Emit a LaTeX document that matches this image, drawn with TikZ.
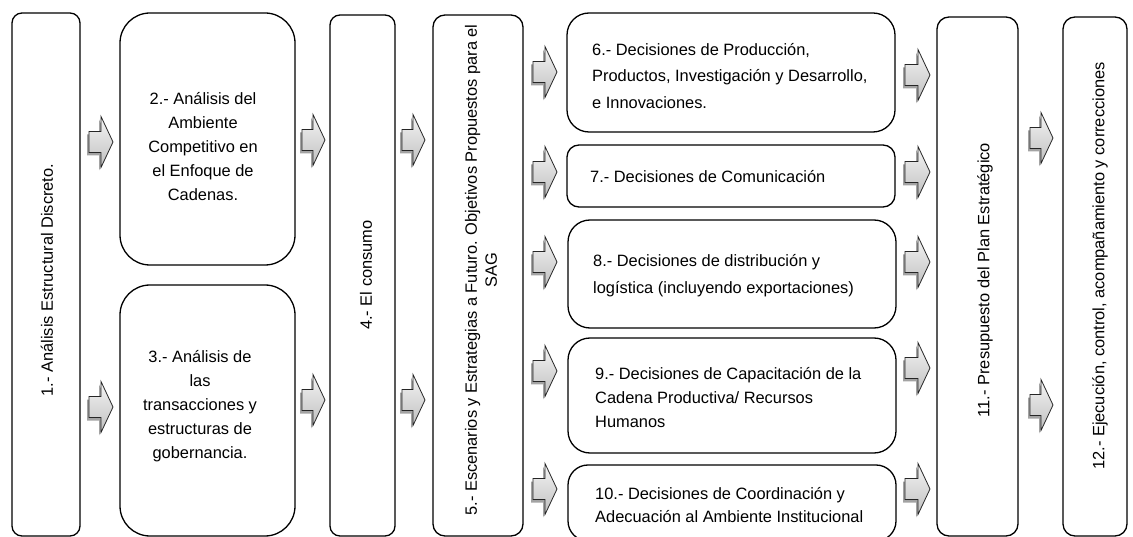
\documentclass[tikz,border=0pt]{standalone}
\usepackage{fontspec}
\setmainfont{Liberation Sans}
\usetikzlibrary{fit}
\tikzset{
  box/.style={draw=black, line width=1.3pt, rounded corners=#1, inner sep=0pt},
  txt/.style={inner sep=0pt, font=\fontsize{16.4}{24}\selectfont, text=black},
  arrowfill/.style={draw=black!85, line width=0.8pt, top color=gray!8, bottom color=gray!50},
  arrowshadow/.style={fill=black!60, opacity=0.6}
}
\newcommand\garrow[3]{% #1 = left x, #2 = tip x, #3 = centre y
  \fill[arrowshadow, shift={(-2,3)}] (#1,{#3-10.5}) -- ({#2-12},{#3-10.5}) -- ({#2-12},{#3-25.5}) -- (#2,#3) -- ({#2-12},{#3+25.5}) -- ({#2-12},{#3+10.5}) -- (#1,{#3+10.5}) -- cycle;
  \draw[arrowfill] (#1,{#3-10.5}) -- ({#2-12},{#3-10.5}) -- ({#2-12},{#3-25.5}) -- (#2,#3) -- ({#2-12},{#3+25.5}) -- ({#2-12},{#3+10.5}) -- (#1,{#3+10.5}) -- cycle;
}
\begin{document}
\begin{tikzpicture}[x=1pt, y=-1pt]
\useasboundingbox (0,0) rectangle (1133,537);
\clip (0,0) rectangle (1133,537);
\fill[white] (0,0) rectangle (1133,537);

% boxes
\node[box=10, fit={(12,13) (80,536)}] (b1) {};
\node[box=30, fit={(120,13) (295,265)}] (b2) {};
\node[box=30, fit={(120,285) (295,536)}] (b3) {};
\node[box=10, fit={(330,15) (395,536)}] (b4) {};
\node[box=12, fit={(433,15) (523,536)}] (b5) {};
\node[box=22, fit={(567,13) (895,132)}] (b6) {};
\node[box=12, fit={(567,145) (895,207)}] (b7) {};
\node[box=22, fit={(568,220) (896,328)}] (b8) {};
\node[box=22, fit={(568,338) (896,453)}] (b9) {};
\node[box=20, fit={(568,465) (896,541)}] (b10) {};
\node[box=12, fit={(937,17) (1018,536)}] (b11) {};
\node[box=12, fit={(1063,17) (1127,536)}] (b12) {};

% texts
\node[txt, rotate=90] (t1) at (47,280) {1.- Análisis Estructural Discreto.};
\node[txt, align=center] (t2) at (203,147) {2.- Análisis del\\Ambiente\\Competitivo en\\el Enfoque de\\Cadenas.};
\node[txt, align=center] (t3) at (200,406) {3.- Análisis de\\las\\transacciones y\\estructuras de\\gobernancia.};
\node[txt, rotate=90] (t4) at (366,275) {4.- El consumo};
\node[txt, rotate=90, align=center, font=\fontsize{16.4}{20}\selectfont] (t5) at (481,270) {5.- Escenarios y Estrategias a Futuro. Objetivos Propuestos para el\\SAG};
\node[txt, anchor=west, align=left, font=\fontsize{16.4}{26.5}\selectfont] (t6) at (592,76) {6.- Decisiones de Producción,\\Productos, Investigación y Desarrollo,\\e Innovaciones.};
\node[txt, anchor=west] (t7) at (590,177) {7.- Decisiones de Comunicación};
\node[txt, anchor=west, align=left, font=\fontsize{16.4}{27}\selectfont] (t8) at (593,276) {8.- Decisiones de distribución y\\logística (incluyendo exportaciones)};
\node[txt, anchor=west, align=left, font=\fontsize{16.4}{24}\selectfont] (t9) at (595,398) {9.- Decisiones de Capacitación de la\\Cadena Productiva/ Recursos\\Humanos};
\node[txt, anchor=west, align=left, font=\fontsize{16.4}{23}\selectfont] (t10) at (595,505) {10.- Decisiones de Coordinación y\\Adecuación al Ambiente Institucional};
\node[txt, rotate=90] (t11) at (985,280) {11.- Presupuesto del Plan Estratégico};
\node[txt, rotate=90] (t12) at (1100,266) {12.- Ejecución, control, acompañamiento y correcciones};

% block arrows
\garrow{89}{113}{142}
\garrow{89}{113}{407}
\garrow{302}{325}{140}
\garrow{302}{325}{400}
\garrow{402}{425}{140}
\garrow{402}{425}{400}
\garrow{533}{557}{72}
\garrow{533}{557}{172}
\garrow{533}{557}{262}
\garrow{533}{557}{371}
\garrow{533}{557}{489}
\garrow{905}{930}{75}
\garrow{905}{930}{172}
\garrow{905}{930}{262}
\garrow{905}{930}{368}
\garrow{905}{930}{489}
\garrow{1030}{1053}{138}
\garrow{1030}{1053}{405}
\end{tikzpicture}
\end{document}
